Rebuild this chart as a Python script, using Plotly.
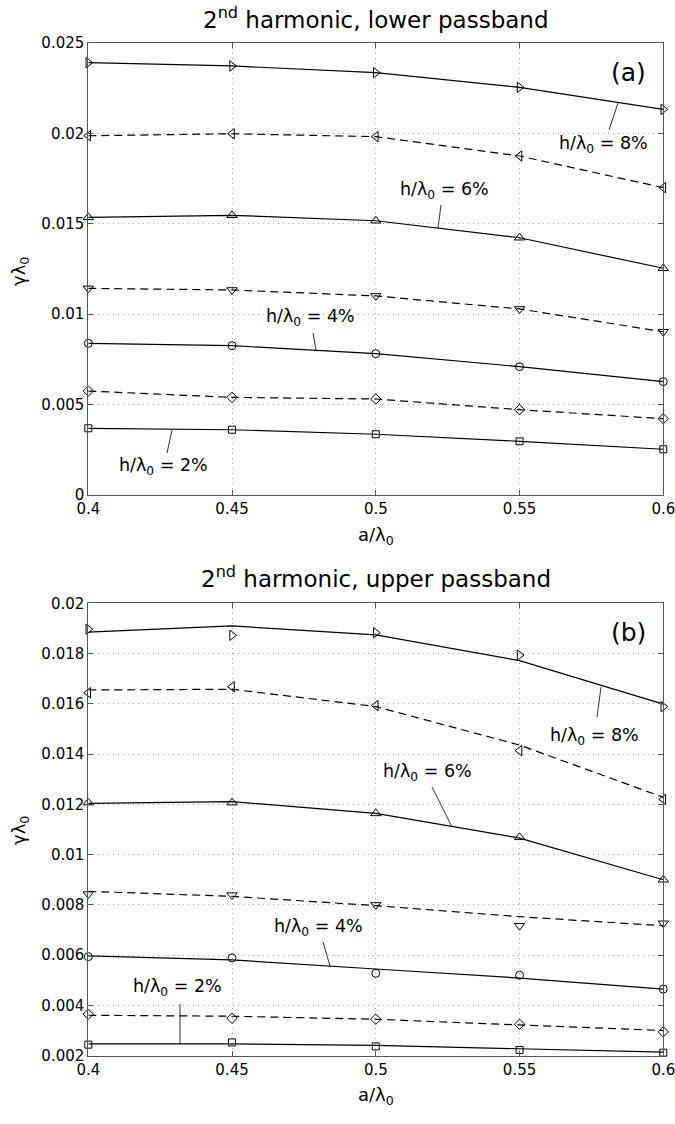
import plotly.graph_objects as go

W, H = 675, 1124

a_lambda = [0.4, 0.45, 0.5, 0.55, 0.6]

# ---- panel (a): 2nd harmonic, lower passband ----
low_r8 = [0.02391, 0.02373, 0.02336, 0.02255, 0.02133]   # solid, triangle-right
low_l8 = [0.01987, 0.01998, 0.01982, 0.01875, 0.01700]   # dashed, triangle-left
low_u6 = [0.01536, 0.01547, 0.01517, 0.01423, 0.01254]   # solid, triangle-up
low_d6 = [0.01143, 0.01134, 0.01101, 0.01029, 0.00903]   # dashed, triangle-down
low_c4 = [0.00839, 0.00826, 0.00782, 0.00710, 0.00627]   # solid, circle
low_m4 = [0.00575, 0.00540, 0.00531, 0.00472, 0.00422]   # dashed, diamond
low_s2 = [0.00369, 0.00361, 0.00336, 0.00297, 0.00253]   # solid, square

# ---- panel (b): 2nd harmonic, upper passband (markers and fitted lines) ----
up_r8_pts = [0.01897, 0.01873, 0.01883, 0.01794, 0.01589]
up_r8_fit = [0.01885, 0.01910, 0.01874, 0.01772, 0.01599]
up_l8_pts = [0.01644, 0.01668, 0.01593, 0.01414, 0.01220]
up_l8_fit = [0.01655, 0.01658, 0.01589, 0.01436, 0.01228]
up_u6_pts = [0.01207, 0.01207, 0.01164, 0.01069, 0.00900]
up_u6_fit = [0.01204, 0.01211, 0.01164, 0.01066, 0.00900]
up_d6_pts = [0.00843, 0.00839, 0.00800, 0.00717, 0.00727]
up_d6_fit = [0.00854, 0.00834, 0.00797, 0.00753, 0.00717]
up_c4_pts = [0.00594, 0.00589, 0.00528, 0.00520, 0.00465]
up_c4_fit = [0.00597, 0.00581, 0.00545, 0.00509, 0.00465]
up_m4_pts = [0.00365, 0.00349, 0.00345, 0.00325, 0.00295]
up_m4_fit = [0.00361, 0.00357, 0.00345, 0.00322, 0.00300]
up_s2_pts = [0.00244, 0.00253, 0.00237, 0.00223, 0.00212]
up_s2_fit = [0.00247, 0.00247, 0.00241, 0.00227, 0.00214]

x_ticks = [0.4, 0.45, 0.5, 0.55, 0.6]
x_ticktext = ["0.4", "0.45", "0.5", "0.55", "0.6"]
ya_ticks = [0, 0.005, 0.01, 0.015, 0.02, 0.025]
ya_ticktext = ["0", "0.005", "0.01", "0.015", "0.02", "0.025"]
yb_ticks = [0.002, 0.004, 0.006, 0.008, 0.01, 0.012, 0.014, 0.016, 0.018, 0.02]
yb_ticktext = ["0.002", "0.004", "0.006", "0.008", "0.01", "0.012", "0.014", "0.016", "0.018", "0.02"]

symbols = ["triangle-right-open", "triangle-left-open", "triangle-up-open",
           "triangle-down-open", "circle-open", "diamond-open", "square-open"]
dashes = ["solid", "8px,5px", "solid", "8px,5px", "solid", "8px,5px", "solid"]
msizes = [9, 9, 9, 9, 8, 8, 7]

low_series = [low_r8, low_l8, low_u6, low_d6, low_c4, low_m4, low_s2]
up_pts = [up_r8_pts, up_l8_pts, up_u6_pts, up_d6_pts, up_c4_pts, up_m4_pts, up_s2_pts]
up_fit = [up_r8_fit, up_l8_fit, up_u6_fit, up_d6_fit, up_c4_fit, up_m4_fit, up_s2_fit]

FONT = "DejaVu Sans, Liberation Sans, Arial, sans-serif"

fig = go.Figure()

def add_panel(fits, pts, xa, ya):
    for i in range(len(fits)):
        fig.add_trace(go.Scatter(
            x=a_lambda, y=fits[i], mode="lines", xaxis=xa, yaxis=ya,
            line=dict(color="black", width=1.2, dash=dashes[i]),
            showlegend=False, hoverinfo="skip"))
        fig.add_trace(go.Scatter(
            x=a_lambda, y=pts[i], mode="markers", xaxis=xa, yaxis=ya,
            marker=dict(symbol=symbols[i], size=msizes[i], color="black",
                        line=dict(color="black", width=1)),
            showlegend=False, cliponaxis=False))

add_panel(low_series, low_series, "x", "y")
add_panel(up_fit, up_pts, "x2", "y2")

# page pixel -> paper helpers
def px(x):
    return x / W

def py(y):
    return 1 - y / H

X0, X1 = 88.3, 663.3
A_TOP, A_BOT = 43.0, 495.0
B_TOP, B_BOT = 603.3, 1055.7

axis_common = dict(
    showline=True, linecolor="#555555", linewidth=1, mirror="ticks",
    ticks="inside", ticklen=5, tickcolor="#555555", tickwidth=1,
    showgrid=True, gridcolor="#a8a8a8", griddash="1px,4px", gridwidth=1,
    zeroline=False, automargin=False, ticklabeloverflow="allow",
    tickfont=dict(family=FONT, size=15, color="black"),
)

fig.update_layout(
    template="none",
    width=W, height=H,
    margin=dict(l=0, r=0, t=0, b=0),
    paper_bgcolor="white", plot_bgcolor="white",
    font=dict(family=FONT, color="black"),
    xaxis=dict(domain=[px(X0), px(X1)], anchor="y", range=[0.4, 0.6],
               tickvals=x_ticks, ticktext=x_ticktext, **axis_common),
    yaxis=dict(domain=[py(A_BOT), py(A_TOP)], anchor="x", range=[0, 0.025],
               tickvals=ya_ticks, ticktext=ya_ticktext, **axis_common),
    xaxis2=dict(domain=[px(X0), px(X1)], anchor="y2", range=[0.4, 0.6],
                tickvals=x_ticks, ticktext=x_ticktext, **axis_common),
    yaxis2=dict(domain=[py(B_BOT), py(B_TOP)], anchor="x2", range=[0.002, 0.02],
                tickvals=yb_ticks, ticktext=yb_ticktext, **axis_common),
)

annots = []
shapes = []

def text(x, y, s, size=17.5, angle=0):
    annots.append(dict(x=px(x), y=py(y), xref="paper", yref="paper", text=s,
                       showarrow=False, textangle=angle,
                       font=dict(family=FONT, size=size, color="black"),
                       xanchor="center", yanchor="middle"))

def leader(x0, y0, x1, y1):
    shapes.append(dict(type="line", xref="paper", yref="paper",
                       x0=px(x0), y0=py(y0), x1=px(x1), y1=py(y1),
                       line=dict(color="black", width=0.8)))

# titles
text(376, 18, "2<sup>nd</sup> harmonic, lower passband", size=23)
text(376, 577, "2<sup>nd</sup> harmonic, upper passband", size=23)
# axis labels
text(376, 536, "a/λ<sub>0</sub>", size=18)
text(376, 1096, "a/λ<sub>0</sub>", size=18)
text(20, 272, "γλ<sub>0</sub>", size=18, angle=-90)
text(20, 831, "γλ<sub>0</sub>", size=18, angle=-90)
# panel labels
text(628, 72, "(a)", size=25)
text(628, 632, "(b)", size=25)

# panel (a) curve labels
text(603, 144, "h/λ<sub>0</sub> = 8%")
leader(609, 130, 618, 103)
text(445, 191, "h/λ<sub>0</sub> = 6%")
leader(441, 205, 438, 228)
text(310, 318, "h/λ<sub>0</sub> = 4%")
leader(313, 333, 316, 350)
text(163, 466, "h/λ<sub>0</sub> = 2%")
leader(167, 453, 172, 430)

# panel (b) curve labels
text(594, 736, "h/λ<sub>0</sub> = 8%")
leader(597, 717, 601, 687)
text(427, 772, "h/λ<sub>0</sub> = 6%")
leader(432, 787, 452, 827)
text(318, 927, "h/λ<sub>0</sub> = 4%")
leader(323, 942, 330, 966)
text(177, 988, "h/λ<sub>0</sub> = 2%")
leader(180, 1004, 180, 1044)

fig.update_layout(annotations=annots, shapes=shapes)

fig.write_html("out.html",
               config={"displayModeBar": False},
               post_script="document.body.style.margin='0';"
                           "document.body.style.overflow='hidden';")
